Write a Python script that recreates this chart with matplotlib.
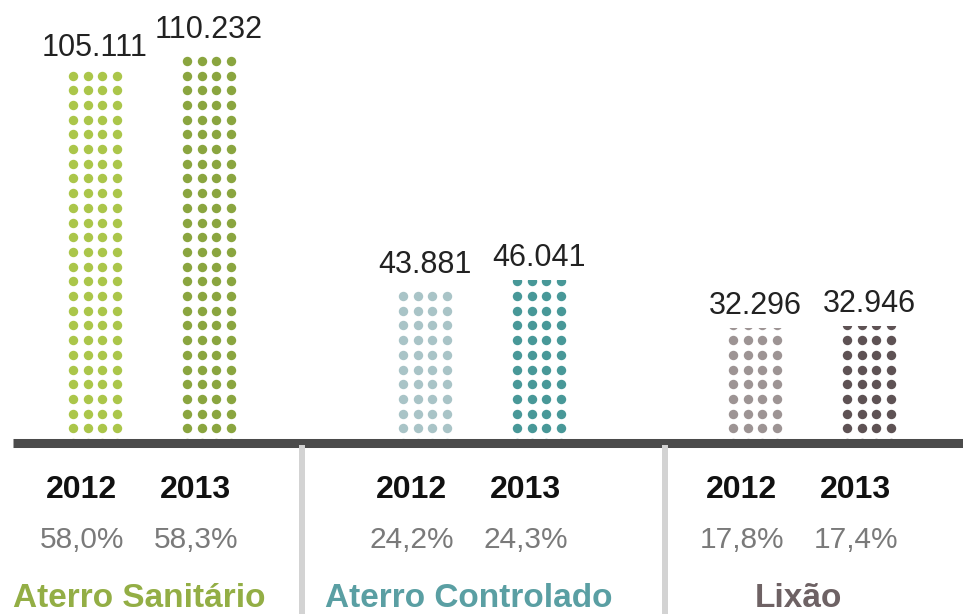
import numpy as np
import matplotlib
matplotlib.use("Agg")
import matplotlib.pyplot as plt
from matplotlib.lines import Line2D
from matplotlib.transforms import blended_transform_factory

plt.rcParams['font.family'] = ['Liberation Sans', 'DejaVu Sans']

# destinação final dos RSU (t/dia)
categories = ["Aterro Sanitário", "Aterro Controlado", "Lixão"]
years = ["2012", "2013"]
values_2012 = [105.111, 43.881, 32.296]
values_2013 = [110.232, 46.041, 32.946]
share_2012 = ["58,0%", "24,2%", "17,8%"]
share_2013 = ["58,3%", "24,3%", "17,4%"]

colors_2012 = ["#abc64a", "#a9c4c7", "#9d9494"]
colors_2013 = ["#8aa53f", "#489898", "#5e5254"]
title_colors = ["#93ae45", "#5a9fa3", "#6e6264"]

W, H = 963, 614
fig = plt.figure(figsize=(W / 100, H / 100), dpi=100)
base_px = 443
ax = fig.add_axes([0, (H - base_px) / H, 1, base_px / H])
ax.set_axis_off()

px_per_unit = 3.55
ax.set_xlim(-152 / 330, (W - 152) / 330)
ax.set_ylim(0, base_px / px_per_unit)

x = np.arange(len(categories))
off = 57 / 330
width = 60 / 330
step_x = 14.7 / 330
step_y = 14.7 / px_per_unit

def dotted_bar(xc, val, color):
    rect = ax.bar(xc, val, width=width, color="none", edgecolor="none")[0]
    cols = xc + step_x * (np.arange(4) - 1.5)
    rows = np.arange(0, val + step_y, step_y)
    gx, gy = np.meshgrid(cols, rows)
    sc = ax.scatter(gx.ravel(), gy.ravel(), s=46, color=color, linewidths=0)
    sc.set_clip_path(rect)
    ax.annotate(f"{val:.3f}", (xc, val), xytext=(0, 10), textcoords="offset points",
                ha="center", va="baseline", fontsize=22, color="#222222")

for i in range(len(categories)):
    dotted_bar(x[i] - off, values_2012[i], colors_2012[i])
    dotted_bar(x[i] + off, values_2013[i], colors_2013[i])

# linha de base
ax.axhline(0, xmin=13 / W, xmax=1, color="#4b4b4b", lw=6.5, solid_capstyle="butt",
           zorder=5, clip_on=False)

trans = blended_transform_factory(ax.transData, fig.transFigure)
shift = -0.04
for i in range(len(categories)):
    for xc, yr, sh in [(x[i] - off, years[0], share_2012[i]), (x[i] + off, years[1], share_2013[i])]:
        fig.text(xc + shift, 1 - 498 / H, yr, transform=trans, ha="center", va="baseline",
                 fontsize=23, fontweight="bold", color="#111111")
        fig.text(xc + shift, 1 - 548 / H, sh, transform=trans, ha="center", va="baseline",
                 fontsize=21.5, color="#7a7a7a")
    fig.text(x[i] + shift, 1 - 607 / H, categories[i], transform=trans, ha="center",
             va="baseline", fontsize=24, fontweight="bold", color=title_colors[i])

# separadores entre grupos
for sx in [0.455, 1.555]:
    fig.add_artist(Line2D([sx, sx], [0, (H - 448) / H], transform=trans,
                          color="#d3d3d3", lw=4.3))

fig.savefig("out.png", dpi=100, facecolor="white")
